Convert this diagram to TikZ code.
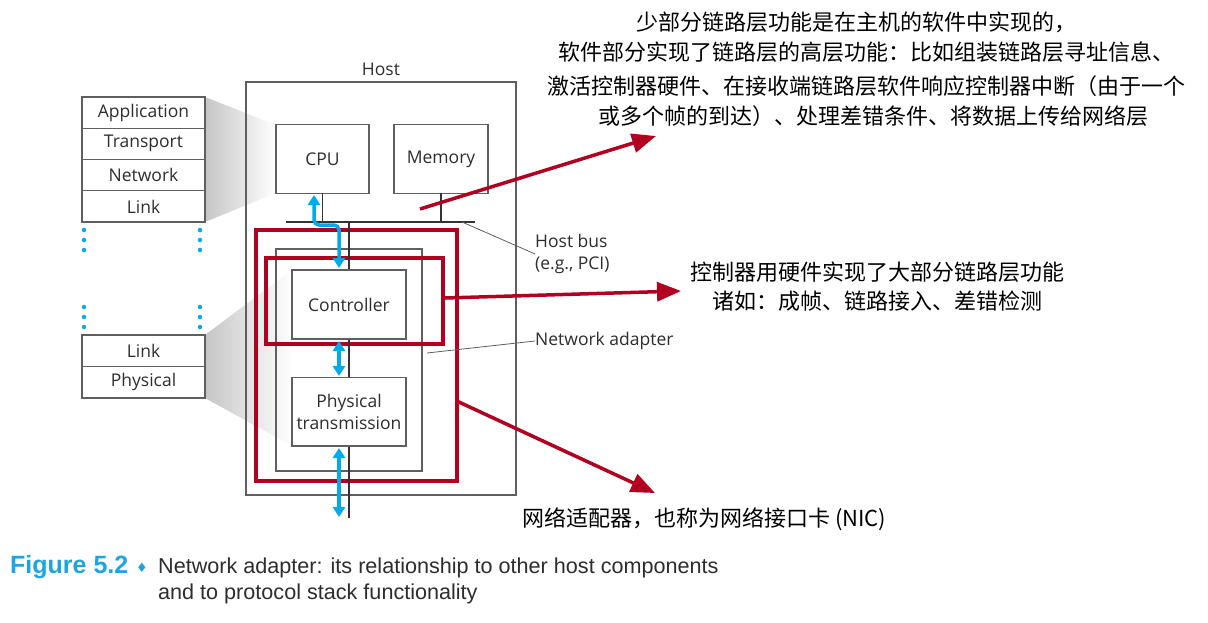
\documentclass[tikz,border=0pt]{standalone}
\usepackage{fontspec}
\usetikzlibrary{arrows.meta,calc}
\newfontfamily\labfont{Open Sans}
\newfontfamily\cjkfont{Noto Sans CJK SC}
\newfontfamily\capfont{Liberation Sans}
\newfontfamily\symfont{DejaVu Sans}
\definecolor{nred}{RGB}{178,0,32}
\definecolor{nblue}{RGB}{0,170,235}
\definecolor{ngray}{RGB}{95,95,95}
\definecolor{fblue}{RGB}{30,165,225}
\definecolor{ntext}{RGB}{45,45,45}
\begin{document}
\begin{tikzpicture}[x=1pt,y=-1pt,
  lab/.style={font=\labfont\fontsize{17.5}{22}\selectfont, text=ntext, inner sep=0pt},
  box/.style={lab, draw=ngray, line width=1.1pt, fill=white, align=center, outer sep=0pt},
  layer/.style={box, minimum width=123pt, minimum height=31.25pt},
  frame/.style={draw=ngray, line width=1.1pt, inner sep=0pt, outer sep=0pt},
  redbox/.style={draw=nred, line width=4pt, inner sep=0pt, outer sep=0pt},
  redarrow/.style={nred, line width=3.5pt, -{Triangle[length=24pt,width=19pt]}},
  barrow/.style={nblue, line width=3.5pt, {Triangle[length=10pt,width=12pt]}-{Triangle[length=10pt,width=12pt]}},
  bus/.style={black!80, line width=1.6pt},
  leader/.style={ngray, line width=0.8pt},
  cjk/.style={font=\cjkfont\fontsize{22}{30}\selectfont, inner sep=0pt},
  bdot/.style={circle, fill=nblue, inner sep=0pt, minimum size=4.5pt},
]
\useasboundingbox[fill=white] (0,0) rectangle (1208,622);

% shaded zoom wedges
\shade[left color=gray!45, right color=white] (205,97) -- (276,125) -- (276,193) -- (205,222) -- cycle;
\shade[left color=gray!45, right color=white] (205,335) -- (292,270) -- (292,446) -- (205,398) -- cycle;

% protocol stacks
\node[layer] (app) at (143.5,112.6) {Application};
\node[layer, anchor=north] (tra) at (app.south) {Transport};
\node[layer, anchor=north] (net) at (tra.south) {Network};
\node[layer, anchor=north] (lnk) at (net.south) {Link};
\node[layer, minimum height=31.5pt] (lnk2) at (143.5,350.75) {Link};
\node[layer, minimum height=31.5pt, anchor=north] (phys) at (lnk2.south) {Physical};
\foreach \y [count=\i] in {230,240,250,307,317,327} {
  \node[bdot] (dl\i) at (84,\y) {};
  \node[bdot] (dr\i) at (200,\y) {};
}

% host and adapter frames
\node[frame, minimum width=270pt, minimum height=413pt] (host) at (381,288.5) {};
\node[lab] (hostlbl) at (381,69) {Host};
\node[frame, minimum width=146pt, minimum height=222pt] (na) at (349,360) {};

% red highlight frames
\node[redbox, minimum width=201pt, minimum height=250.7pt] (rout) at (356.2,355.35) {};
\node[redbox, minimum width=177pt, minimum height=86pt] (rin) at (354.5,301) {};

% bus
\coordinate (busL) at (286,222);
\coordinate (busR) at (475,222);
\coordinate (busmid) at (349,222);
\coordinate (busbot) at (349,518);
\draw[bus] (busL) -- (busR);
\draw[bus] (busmid) -- (busbot);

% components
\node[box, minimum width=93pt, minimum height=68.6pt] (cpu) at (322.5,159) {CPU};
\node[box, minimum width=94pt, minimum height=68.6pt] (mem) at (441,159) {Memory};
\node[box, minimum width=114pt, minimum height=69pt] (ctrl) at (349,304.5) {Controller};
\node[box, minimum width=114pt, minimum height=68.3pt] (phy) at (349,411.8) {Physical\\transmission};
\draw[bus] (cpu.south) -- (cpu.south |- busL);
\draw[bus] (mem.south) -- (mem.south |- busL);

% blue data arrows
\coordinate (b1a) at (314,195);
\coordinate (b1b) at (339,268);
\coordinate (b2a) at (339,341);
\coordinate (b2b) at (339,376);
\coordinate (b3a) at (339,448);
\coordinate (b3b) at (339,517);
\draw[barrow, rounded corners=5pt] (b1a) |- (339,225) -- (b1b);
\draw[barrow] (b2a) -- (b2b);
\draw[barrow] (b3a) -- (b3b);

% leaders and labels
\node[lab, anchor=north west, align=left] (hbl) at (535,234) {Host bus\\(e.g., PCI)};
\node[lab, anchor=west] (nal) at (535,341) {Network adapter};
\draw[leader] (462,222) -- (hbl.west);
\draw[leader] (427,353) -- (nal.west);

% red annotation arrows
\coordinate (r1s) at (420,209);
\coordinate (r1e) at (656,136);
\coordinate (r2s) at (445,298);
\coordinate (r2e) at (681,291);
\coordinate (r3s) at (456.7,401);
\coordinate (r3e) at (655,493);
\draw[redarrow] (r1s) -- (r1e);
\draw[redarrow] (r2s) -- (r2e);
\draw[redarrow] (r3s) -- (r3e);

% Chinese annotations
\node[cjk] (t1) at (856,22) {少部分链路层功能是在主机的软件中实现的，};
\node[cjk] (t2) at (866,52) {软件部分实现了链路层的高层功能：比如组装链路层寻址信息、};
\node[cjk] (t3) at (866,86) {激活控制器硬件、在接收端链路层软件响应控制器中断（由于一个};
\node[cjk] (t4) at (873,116) {或多个帧的到达）、处理差错条件、将数据上传给网络层};
\node[cjk, anchor=west] (t5) at (690,272) {控制器用硬件实现了大部分链路层功能};
\node[cjk, anchor=west] (t6) at (712,301) {诸如：成帧、链路接入、差错检测};
\node[cjk, anchor=west] (t7) at (522,519) {网络适配器，也称为网络接口卡 (NIC)};

% caption
\node[anchor=base west, inner sep=0pt, text=fblue, font=\capfont\bfseries\fontsize{25}{28}\selectfont] (fig) at (10,573) {Figure 5.2};
\node[anchor=base, inner sep=0pt, text=fblue, font=\symfont\fontsize{13}{16}\selectfont] (dia) at (142,572) {♦};
\node[anchor=base west, inner sep=0pt, text=ntext, font=\capfont\fontsize{21.6}{26}\selectfont] (cap1) at (158,573) {Network adapter: its relationship to other host components};
\node[anchor=base west, inner sep=0pt, text=ntext, font=\capfont\fontsize{21.6}{26}\selectfont] (cap2) at (158,599) {and to protocol stack functionality};
\end{tikzpicture}
\end{document}
